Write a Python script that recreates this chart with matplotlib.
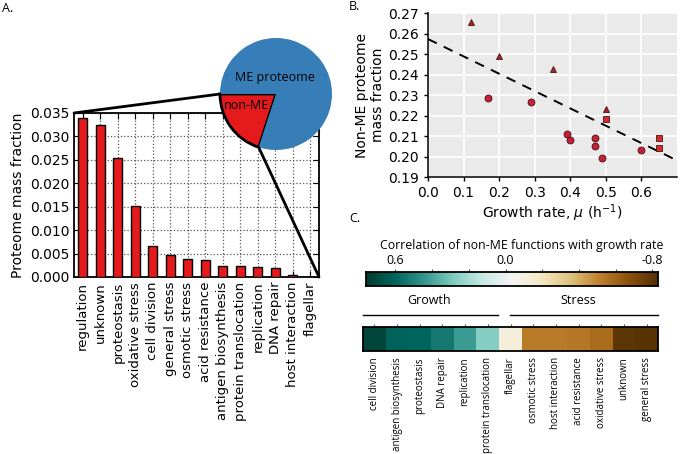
import matplotlib.pyplot as plt
import numpy as np
from matplotlib.patches import ConnectionPatch
from matplotlib.colors import Normalize
import matplotlib.transforms as mtransforms

# panel A data
categories = ['regulation', 'unknown', 'proteostasis', 'oxidative stress', 'cell division',
              'general stress', 'osmotic stress', 'acid resistance', 'antigen biosynthesis',
              'protein translocation', 'replication', 'DNA repair', 'host interaction', 'flagellar']
mass_fraction = [0.0340, 0.0325, 0.0255, 0.0151, 0.0067, 0.0047, 0.0039, 0.0036,
                 0.0024, 0.0023, 0.0022, 0.0019, 0.0005, 0.00005]
pie_labels = ['non-ME', 'ME proteome']
pie_fractions = [0.2, 0.8]

# panel B data
tri_mu = [0.12, 0.20, 0.35, 0.50]
tri_frac = [0.2654, 0.2492, 0.2425, 0.2230]
circ_mu = [0.17, 0.29, 0.39, 0.40, 0.47, 0.47, 0.49, 0.60]
circ_frac = [0.2287, 0.2267, 0.2110, 0.2079, 0.2089, 0.2053, 0.1991, 0.2032]
sq_mu = [0.50, 0.65, 0.65]
sq_frac = [0.2183, 0.2089, 0.2040]
fit_intercept = 0.2573
fit_slope = -0.0846

# panel C data
corr_functions = ['cell division', 'antigen biosynthesis', 'proteostasis', 'DNA repair',
                  'replication', 'protein translocation', 'flagellar', 'osmotic stress',
                  'host interaction', 'acid resistance', 'oxidative stress', 'unknown',
                  'general stress']
corr_values = [0.72, 0.61, 0.60, 0.54, 0.43, 0.27, -0.12, -0.53, -0.53, -0.54, -0.58, -0.80, -0.81]
corr_min, corr_max = -0.83, 0.76

W, H = 680, 454
fig = plt.figure(figsize=(6.8, 4.54), dpi=100)

def box(x0, y0, x1, y1):
    # pixel box -> figure fraction
    return [x0 / W, 1 - y1 / H, (x1 - x0) / W, (y1 - y0) / H]

sans = 'Open Sans'

# ---------- A: bars ----------
ax_bar = fig.add_axes(box(74, 113, 319, 277))
x = np.arange(len(categories))
ax_bar.bar(x, mass_fraction, width=0.5, color='#e41a1c', edgecolor='black', linewidth=1, zorder=3)
ax_bar.set_xlim(-0.5, len(categories) - 0.5)
ax_bar.set_ylim(0, 0.035)
ax_bar.set_xticks(x)
ax_bar.set_xticklabels(categories, rotation=90, fontsize=9.5)
yt = np.arange(0, 0.0351, 0.005)
ax_bar.set_yticks(yt)
ax_bar.set_yticklabels(['%.3f' % v for v in yt], fontsize=10)
ax_bar.grid(True, linestyle=':', color='#555555', linewidth=0.9)
ax_bar.tick_params(direction='in', top=True, right=True, length=4)
ax_bar.set_ylabel('Proteome mass fraction', fontsize=10, labelpad=3)
for s in ax_bar.spines.values():
    s.set_linewidth(1.3)

# ---------- A: pie ----------
ax_pie = fig.add_axes(box(220, 38, 332, 150))
wedges, _ = ax_pie.pie(pie_fractions, colors=['#e41a1c', '#377eb8'], startangle=180,
                       counterclock=True)
wedges[0].set_edgecolor('black')
wedges[0].set_linewidth(2)
wedges[1].set_linewidth(0)
ax_pie.set_xlim(-1, 1)
ax_pie.set_ylim(-1, 1)
ax_pie.text(-0.02, 0.30, pie_labels[1], ha='center', va='center', fontsize=9, family=sans)
ax_pie.text(-0.52, -0.21, pie_labels[0], ha='center', va='center', fontsize=9, family=sans)

end_ang = np.deg2rad(180 + 360 * pie_fractions[0])
con1 = ConnectionPatch(xyA=(-1, 0), coordsA=ax_pie.transData, xyB=(0, 1), coordsB=ax_bar.transAxes,
                       color='black', linewidth=2)
con2 = ConnectionPatch(xyA=(np.cos(end_ang), np.sin(end_ang)), coordsA=ax_pie.transData,
                       xyB=(1, 0), coordsB=ax_bar.transAxes, color='black', linewidth=2)
fig.add_artist(con1)
fig.add_artist(con2)

# ---------- B: scatter ----------
ax_b = fig.add_axes(box(428, 13, 677, 177))
ax_b.set_facecolor('#eaeaea')
ax_b.grid(True, color='white', linewidth=1.2)
ax_b.set_axisbelow(True)
xs = np.array([0, 0.7])
ax_b.plot(xs, fit_intercept + fit_slope * xs, '--', color='black', linewidth=1.4, dashes=(5, 4))
ax_b.plot(tri_mu, tri_frac, '^', ms=4.5, mfc='#a3262f', mec='#4a1010', mew=0.6)
ax_b.plot(circ_mu, circ_frac, 'o', ms=5, mfc='#c4203a', mec='#4a1010', mew=0.6)
ax_b.plot(sq_mu, sq_frac, 's', ms=5, mfc='#d42a30', mec='#4a1010', mew=0.6)
ax_b.set_xlim(0, 0.7)
ax_b.set_ylim(0.19, 0.27)
ax_b.set_xticks(np.arange(0, 0.61, 0.1))
ax_b.set_yticks(np.arange(0.19, 0.2701, 0.01))
ax_b.set_xticklabels(['%.1f' % v for v in np.arange(0, 0.61, 0.1)], fontsize=10)
ax_b.set_yticklabels(['%.2f' % v for v in np.arange(0.19, 0.2701, 0.01)], fontsize=10)
ax_b.tick_params(direction='out', length=3, width=1)
for side in ['top', 'right']:
    ax_b.spines[side].set_visible(False)
for side in ['left', 'bottom']:
    ax_b.spines[side].set_color('black')
    ax_b.spines[side].set_linewidth(1.1)
ax_b.set_xlabel(r'Growth rate, $\mu$ (h$^{-1}$)', fontsize=10, labelpad=2)
ax_b.set_ylabel('Non-ME proteome\nmass fraction', fontsize=10, labelpad=2)

# ---------- C: colorbar + heatmap ----------
norm = Normalize(vmin=corr_min, vmax=corr_max)
ax_cb = fig.add_axes(box(366, 272, 658, 286))
grad = np.linspace(corr_min, corr_max, 512)[None, :]
ax_cb.imshow(grad, cmap='BrBG', norm=norm, aspect='auto', extent=[corr_min, corr_max, 0, 1])
ax_cb.set_xlim(corr_max, corr_min)
cb_ticks = [0.6, 0.4, 0.2, 0.0, -0.2, -0.4, -0.6, -0.8]
ax_cb.set_xticks(cb_ticks)
ax_cb.set_xticklabels(['0.6', '', '', '0.0', '', '', '', '-0.8'], fontsize=9, family=sans)
ax_cb.set_yticks([])
ax_cb.tick_params(axis='x', bottom=False, top=True, labelbottom=False, labeltop=True,
                  length=2.5, pad=1, color='#555555')
ax_cb.set_title('Correlation of non-ME functions with growth rate', fontsize=8.9, family=sans,
                pad=4, x=0.534)
for s in ax_cb.spines.values():
    s.set_linewidth(1.3)

ax_hm = fig.add_axes(box(363, 327, 658, 351))
ax_hm.imshow(np.array([corr_values]), cmap='BrBG', norm=norm, aspect='auto')
ax_hm.set_xticks(np.arange(len(corr_functions)))
ax_hm.set_xticklabels(corr_functions, rotation=90, fontsize=7, family=sans)
ax_hm.set_yticks([])
ax_hm.tick_params(axis='x', bottom=False, top=True, labelbottom=True, labeltop=False,
                  length=2.5, pad=2, color='#555555')
for s in ax_hm.spines.values():
    s.set_linewidth(1.3)

tr = mtransforms.blended_transform_factory(ax_hm.transData, ax_hm.transAxes)
ax_hm.plot([-0.5, 5.43], [1.5, 1.5], color='black', linewidth=1, transform=tr, clip_on=False)
ax_hm.plot([5.96, 12.5], [1.5, 1.5], color='black', linewidth=1, transform=tr, clip_on=False)
ax_hm.text(2.42, 2.12, 'Growth', transform=tr, ha='center', va='center', fontsize=9, family=sans)
ax_hm.text(8.97, 2.12, 'Stress', transform=tr, ha='center', va='center', fontsize=9, family=sans)

fig.text(2 / W, 1 - 8 / H, 'A.', fontsize=9, family=sans, va='center')
fig.text(349 / W, 1 - 7 / H, 'B.', fontsize=9, family=sans, va='center')
fig.text(349 / W, 1 - 219 / H, 'C.', fontsize=9, family=sans, va='center')

fig.savefig('out.png', dpi=100)
